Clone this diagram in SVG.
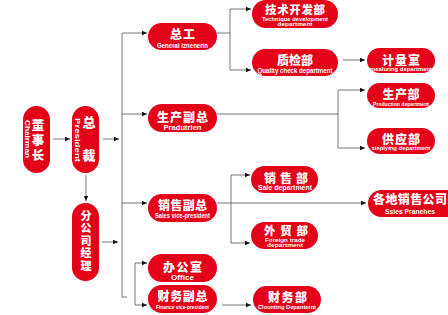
<svg xmlns="http://www.w3.org/2000/svg" width="448" height="315" viewBox="0 0 448 315">
<style>
.n{fill:#e5001a}
.cn{font-family:"Noto Sans CJK SC","DejaVu Sans",sans-serif;font-weight:900;fill:#fff;text-anchor:middle}
.en{font-family:"Liberation Sans",Arial,sans-serif;font-weight:bold;fill:#fff;text-anchor:middle}
.c{stroke:#555;stroke-width:0.8;fill:none}
</style>
<defs>
<marker id="a" markerUnits="userSpaceOnUse" markerWidth="6" markerHeight="6" refX="5" refY="3" orient="auto">
<path d="M0,0.8 L5,3 L0,5.2 Z" fill="#111"/>
</marker>
</defs>
<rect width="448" height="315" fill="#fff"/>
<g id="connectors">
<line class="c" x1="53" y1="139" x2="70" y2="139" marker-end="url(#a)"/>
<line class="c" x1="103" y1="139" x2="119" y2="139" marker-end="url(#a)"/>
<polyline class="c" points="122,33 122,297 127,297"/>
<line class="c" x1="122" y1="33" x2="147" y2="33" marker-end="url(#a)"/>
<line class="c" x1="122" y1="114" x2="147" y2="114" marker-end="url(#a)"/>
<line class="c" x1="122" y1="203" x2="147" y2="203" marker-end="url(#a)"/>
<line class="c" x1="86" y1="175" x2="86" y2="201" marker-end="url(#a)"/>
<line class="c" x1="102" y1="242" x2="118" y2="242" marker-end="url(#a)"/>
<line class="c" x1="135" y1="263" x2="135" y2="305"/>
<line class="c" x1="135" y1="263" x2="147" y2="263" marker-end="url(#a)"/>
<line class="c" x1="135" y1="305" x2="147" y2="305" marker-end="url(#a)"/>
<line class="c" x1="217" y1="33" x2="230" y2="33"/>
<line class="c" x1="230" y1="9" x2="230" y2="70"/>
<line class="c" x1="230" y1="9" x2="251" y2="9" marker-end="url(#a)"/>
<line class="c" x1="230" y1="70" x2="251" y2="70" marker-end="url(#a)"/>
<line class="c" x1="343" y1="60" x2="365" y2="60" marker-end="url(#a)"/>
<line class="c" x1="217" y1="114" x2="338" y2="114"/>
<line class="c" x1="338" y1="90" x2="338" y2="148"/>
<line class="c" x1="338" y1="90" x2="365" y2="90" marker-end="url(#a)"/>
<line class="c" x1="338" y1="148" x2="365" y2="148" marker-end="url(#a)"/>
<line class="c" x1="217" y1="203" x2="366" y2="203" marker-end="url(#a)"/>
<line class="c" x1="231" y1="175" x2="231" y2="243"/>
<line class="c" x1="231" y1="175" x2="250" y2="175" marker-end="url(#a)"/>
<line class="c" x1="231" y1="243" x2="250" y2="243" marker-end="url(#a)"/>
<line class="c" x1="222" y1="305" x2="251" y2="305" marker-end="url(#a)"/>
</g>
<g id="chairman">
<rect class="n" x="23" y="106" width="27" height="67" rx="13.5"/>
<text class="cn" x="38" y="130" font-size="12.5">董</text>
<text class="cn" x="38" y="145" font-size="12.5">事</text>
<text class="cn" x="38" y="160" font-size="12.5">长</text>
<text class="en" font-size="7" transform="translate(27,139) rotate(90)" y="2.5" textLength="38" lengthAdjust="spacingAndGlyphs">Chairman</text>
</g>
<g id="president">
<rect class="n" x="72" y="106" width="27" height="67" rx="13.5"/>
<text class="cn" x="89" y="127" font-size="13">总</text>
<text class="cn" x="89" y="160" font-size="13">裁</text>
<text class="en" font-size="7" transform="translate(77,140) rotate(90)" y="2.5" textLength="44" lengthAdjust="spacingAndGlyphs">President</text>
</g>
<g id="branch-manager">
<rect class="n" x="72" y="203" width="27" height="78" rx="13.5"/>
<text class="cn" x="86" y="219.5" font-size="11">分</text>
<text class="cn" x="86" y="232" font-size="11">公</text>
<text class="cn" x="86" y="244.5" font-size="11">司</text>
<text class="cn" x="86" y="257" font-size="11">经</text>
<text class="cn" x="86" y="269.5" font-size="11">理</text>
</g>
<g id="chief-engineer">
<rect class="n" x="148" y="23" width="69" height="27" rx="13.5"/>
<text class="cn" x="182.5" y="39" font-size="12" textLength="25" lengthAdjust="spacing">总工</text>
<text class="en" x="182.5" y="48" font-size="6.5" textLength="51" lengthAdjust="spacingAndGlyphs">General Iznenerin</text>
</g>
<g id="production-vp">
<rect class="n" x="148" y="104" width="69" height="28" rx="14"/>
<text class="cn" x="182.5" y="122" font-size="12" textLength="51" lengthAdjust="spacing">生产副总</text>
<text class="en" x="182.5" y="130" font-size="7" textLength="38" lengthAdjust="spacingAndGlyphs">Pradutrien</text>
</g>
<g id="sales-vp">
<rect class="n" x="148" y="194" width="69" height="28" rx="14"/>
<text class="cn" x="182.5" y="210" font-size="12" textLength="49" lengthAdjust="spacing">销售副总</text>
<text class="en" x="182.5" y="218" font-size="6.5" textLength="55" lengthAdjust="spacingAndGlyphs">Sales vice-president</text>
</g>
<g id="office">
<rect class="n" x="148" y="254" width="69" height="28" rx="14"/>
<text class="cn" x="182.5" y="272" font-size="12" textLength="39" lengthAdjust="spacing">办公室</text>
<text class="en" x="182.5" y="280" font-size="7" textLength="23" lengthAdjust="spacingAndGlyphs">Office</text>
</g>
<g id="finance-vp">
<rect class="n" x="148" y="285" width="69" height="28" rx="14"/>
<text class="cn" x="182.5" y="301" font-size="12" textLength="50" lengthAdjust="spacing">财务副总</text>
<text class="en" x="182.5" y="309" font-size="6" textLength="53" lengthAdjust="spacingAndGlyphs">Finance vice-president</text>
</g>
<g id="tech-dev">
<rect class="n" x="252" y="0" width="86" height="28" rx="14"/>
<text class="cn" x="295" y="13.5" font-size="11.5" textLength="60" lengthAdjust="spacing">技术开发部</text>
<text class="en" x="295" y="20.5" font-size="5.5" textLength="66" lengthAdjust="spacingAndGlyphs">Technique development</text>
<text class="en" x="295" y="26" font-size="5.5" textLength="35" lengthAdjust="spacingAndGlyphs">department</text>
</g>
<g id="quality-check">
<rect class="n" x="252" y="49" width="86" height="27" rx="13.5"/>
<text class="cn" x="295" y="65" font-size="12" textLength="36" lengthAdjust="spacing">质检部</text>
<text class="en" x="295" y="73" font-size="6.5" textLength="75" lengthAdjust="spacingAndGlyphs">Quality check department</text>
</g>
<g id="measuring">
<rect class="n" x="367" y="48" width="68" height="25" rx="12.5"/>
<text class="cn" x="401" y="64.5" font-size="12" textLength="38" lengthAdjust="spacing">计量室</text>
<text class="en" x="401" y="71" font-size="6" textLength="62" lengthAdjust="spacingAndGlyphs">mealuring department</text>
</g>
<g id="production">
<rect class="n" x="367" y="83" width="68" height="25" rx="12.5"/>
<text class="cn" x="401" y="99" font-size="12" textLength="37" lengthAdjust="spacing">生产部</text>
<text class="en" x="401" y="105.5" font-size="6" textLength="56" lengthAdjust="spacingAndGlyphs">Production department</text>
</g>
<g id="supplying">
<rect class="n" x="367" y="128" width="68" height="26" rx="13"/>
<text class="cn" x="401" y="143.5" font-size="12" textLength="38" lengthAdjust="spacing">供应部</text>
<text class="en" x="401" y="150" font-size="6" textLength="59" lengthAdjust="spacingAndGlyphs">sieplying department</text>
</g>
<g id="sales">
<rect class="n" x="251" y="166" width="67" height="27" rx="13.5"/>
<text class="cn" x="286" y="183" font-size="12" textLength="44" lengthAdjust="spacing">销售部</text>
<text class="en" x="285" y="190" font-size="6.5" textLength="54" lengthAdjust="spacingAndGlyphs">Sale department</text>
</g>
<g id="foreign-trade">
<rect class="n" x="251" y="222" width="67" height="27" rx="13.5"/>
<text class="cn" x="286" y="235" font-size="11.5" textLength="44" lengthAdjust="spacing">外贸部</text>
<text class="en" x="285" y="241.5" font-size="5.5" textLength="40" lengthAdjust="spacingAndGlyphs">Foreign trade</text>
<text class="en" x="285" y="247" font-size="5.5" textLength="36" lengthAdjust="spacingAndGlyphs">department</text>
</g>
<g id="sales-branches">
<rect class="n" x="368" y="190" width="96" height="27" rx="13.5"/>
<text class="cn" x="410" y="204" font-size="12" textLength="74" lengthAdjust="spacing">各地销售公司</text>
<text class="en" x="410" y="214" font-size="7" textLength="50" lengthAdjust="spacingAndGlyphs">Ssles Pranehes</text>
</g>
<g id="finance">
<rect class="n" x="253" y="286" width="68" height="27" rx="13.5"/>
<text class="cn" x="287.5" y="301.5" font-size="12" textLength="39" lengthAdjust="spacing">财务部</text>
<text class="en" x="287" y="309" font-size="6" textLength="58" lengthAdjust="spacingAndGlyphs">Clounting Depanternt</text>
</g>
</svg>
